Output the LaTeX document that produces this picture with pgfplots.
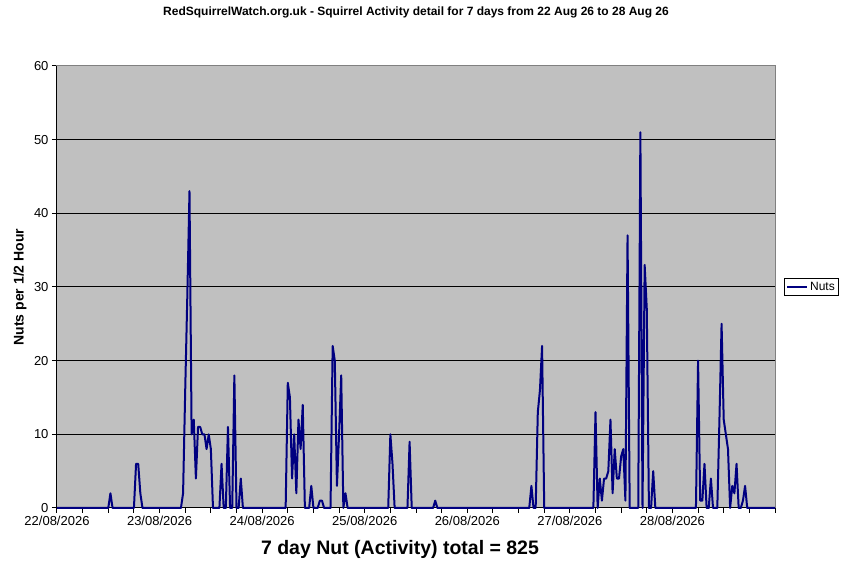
\documentclass[border=0pt]{standalone}
\usepackage{fontspec}
\setmainfont{Liberation Sans}
\usepackage{pgfplots}
\usepackage{pgfplotstable}
\pgfplotsset{compat=1.18}

\definecolor{navy}{RGB}{0,0,128}
\definecolor{plotbg}{RGB}{192,192,192}
\definecolor{framegray}{RGB}{128,128,128}

% nuts per half hour, index 0 = 22/08 00:00 (only the points where the line bends)
\pgfplotstableread{
idx nuts
0 0
24 0
25 2
26 0
36 0
37 6
38 6
39 2
40 0
58 0
59 2
60 16
61 29
62 43
63 10
64 12
65 4
66 11
67 11
68 10
69 10
70 8
71 10
72 8
73 0
76 0
77 6
78 0
79 0
80 11
81 0
82 0
83 18
84 0
85 0
86 4
87 0
107 0
108 17
109 15
110 4
111 10
112 2
113 12
114 8
115 14
116 0
118 0
119 3
120 0
122 0
123 1
124 1
125 0
128 0
129 22
130 20
131 3
132 10
133 18
134 0
135 2
136 0
155 0
156 10
157 6
158 0
164 0
165 9
166 0
176 0
177 1
178 0
221 0
222 3
223 0
224 0
225 13
226 16
227 22
228 0
251 0
252 13
253 0
254 4
255 1
256 4
257 4
258 5
259 12
260 2
261 8
262 4
263 4
264 7
265 8
266 1
267 37
268 0
272 0
273 51
274 0
275 33
276 27
277 0
278 0
279 5
280 0
299 0
300 20
301 1
302 1
303 6
304 0
305 0
306 4
307 0
309 0
310 12
311 25
312 12
313 10
314 8
315 0
316 3
317 2
318 6
319 0
320 0
321 1
322 3
323 0
336 0
}\nutsdata

\begin{document}
\begin{tikzpicture}
\path[use as bounding box, fill=white] (0,0) rectangle (849pt,578pt);
\begin{axis}[
  at={(57pt,70pt)}, anchor=south west,
  scale only axis, width=718pt, height=442pt,
  xmin=0, xmax=336, ymin=0, ymax=60,
  clip=false,
  axis background/.style={fill=plotbg},
  axis line style={draw=framegray, line width=1pt},
  ymajorgrids, grid style={black, line width=1pt},
  ytick={0,10,...,60},
  xtick={0,48,...,288},
  xticklabels={22/08/2026,23/08/2026,24/08/2026,25/08/2026,26/08/2026,27/08/2026,28/08/2026},
  minor xtick={12,24,...,336},
  tick align=outside, tick pos=left,
  major tick length=5pt, minor tick length=5pt,
  tick style={black, line width=1pt},
  every tick label/.append style={font=\fontsize{13}{15}\selectfont},
  /pgf/number format/assume math mode=true,
  title={RedSquirrelWatch.org.uk - Squirrel Activity detail for 7 days from 22 Aug 26 to 28 Aug 26},
  title style={at={(axis description cs:0.5,1.1086)}, anchor=center, yshift=0pt,
    font=\bfseries\fontsize{12}{14}\selectfont},
  xlabel={7 day Nut (Activity) total = 825},
  xlabel style={at={(axis description cs:0.4777,-0.0928)}, anchor=center,
    font=\bfseries\fontsize{19.5}{22}\selectfont},
  ylabel={Nuts per 1/2 Hour},
  ylabel style={at={(axis description cs:-0.0515,0.5)}, anchor=center,
    font=\bfseries\fontsize{14}{16}\selectfont},
  legend style={at={(axis description cs:1.0508,0.5)}, anchor=center,
    draw=black, fill=white, line width=1pt,
    font=\fontsize{12}{14}\selectfont, inner sep=2pt},
  legend cell align=left,
  legend image code/.code={\draw[navy, line width=2pt] (0pt,0pt) -- (20pt,0pt);},
]
\draw[black, line width=1pt] (rel axis cs:0,1) -- (rel axis cs:0,0) -- (rel axis cs:1,0);
\addplot[navy, line width=2pt, line join=round, mark=none] table[x=idx, y=nuts] {\nutsdata};
\addlegendentry{Nuts}
\end{axis}
\end{tikzpicture}
\end{document}
